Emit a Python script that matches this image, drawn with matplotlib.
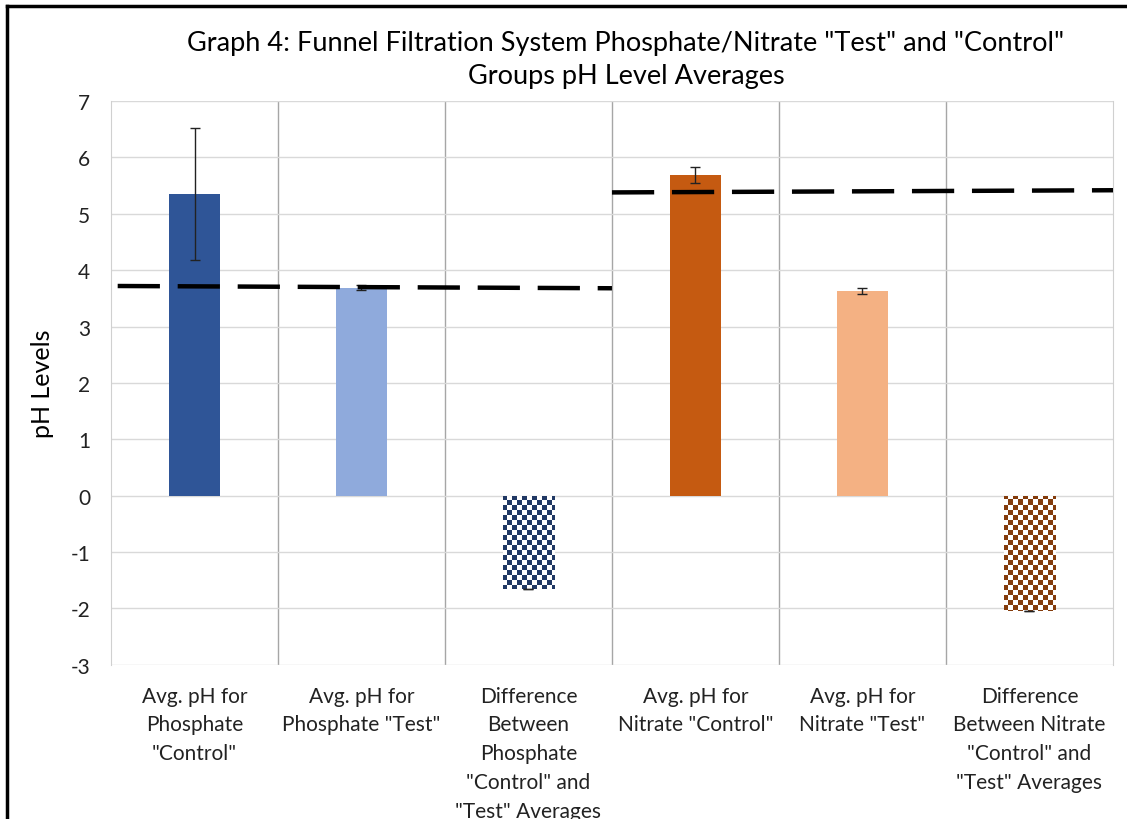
import numpy as np
import matplotlib

matplotlib.use("Agg")
import matplotlib.pyplot as plt
from matplotlib.colors import ListedColormap
from matplotlib.lines import Line2D

plt.rcParams["font.family"] = ["Lato", "DejaVu Sans"]

TITLE = 'Graph 4: Funnel Filtration System Phosphate/Nitrate "Test" and "Control"\nGroups pH Level Averages'
CATEGORIES = [
    'Avg. pH for\nPhosphate\n"Control"',
    'Avg. pH for\nPhosphate "Test"',
    'Difference\nBetween\nPhosphate\n"Control" and\n"Test" Averages',
    'Avg. pH for\nNitrate "Control"',
    'Avg. pH for\nNitrate "Test"',
    'Difference\nBetween Nitrate\n"Control" and\n"Test" Averages',
]
PH_VALUES = [5.35, 3.69, -1.66, 5.69, 3.63, -2.05]
PH_ERRORS = [1.17, 0.04, 0.0, 0.14, 0.06, 0.0]
BAR_COLORS = ["#2F5597", "#8FAADC", "#203864", "#C55A11", "#F4B183", "#843C0C"]
CHECKERED = [False, False, True, False, False, True]

# dashed reference lines (x span in category units, y values)
PHOSPHATE_LINE_X = [-0.46, 2.5]
PHOSPHATE_LINE_Y = [3.72, 3.68]
NITRATE_LINE_X = [2.5, 5.6]
NITRATE_LINE_Y = [5.38, 5.42]

Y_TICKS = [-3, -2, -1, 0, 1, 2, 3, 4, 5, 6, 7]

fig = plt.figure(figsize=(11.27, 8.2), dpi=100)
ax = fig.add_axes([0.0985, 0.188, 0.889, 0.6875])

x = np.arange(len(CATEGORIES))
bars = ax.bar(x, PH_VALUES, width=0.31, color=BAR_COLORS, zorder=3)
ax.errorbar(x, PH_VALUES, yerr=PH_ERRORS, fmt="none", ecolor="#222222",
            elinewidth=1.0, capsize=3.5, capthick=1.0, zorder=4)

# checkerboard texture clipped to the difference bars
n_cols, n_rows = 200, 113
checker = (np.add.outer(np.arange(n_rows), np.arange(n_cols)) % 2).astype(float)
for bar, color, checked in zip(bars, BAR_COLORS, CHECKERED):
    if not checked:
        continue
    bar.set_facecolor("white")
    img = ax.imshow(checker, cmap=ListedColormap(["white", color]), extent=(0, 1, 0, 1),
                    transform=ax.transAxes, interpolation="nearest", aspect="auto", zorder=3.5)
    img.set_clip_path(bar)

ax.plot(PHOSPHATE_LINE_X, PHOSPHATE_LINE_Y, color="black", linewidth=3.2,
        dashes=(9.5, 4), zorder=5)
ax.plot(NITRATE_LINE_X, NITRATE_LINE_Y, color="black", linewidth=3.2,
        dashes=(9.5, 4), zorder=5)

ax.set_xlim(-0.5, 5.5)
ax.set_ylim(-3, 7)
ax.set_yticks(Y_TICKS)
ax.set_yticklabels([str(t) for t in Y_TICKS], fontsize=15)
ax.set_xticks(x)
ax.set_xticklabels(CATEGORIES, fontsize=15, linespacing=1.55, va="top")
ax.tick_params(axis="both", length=0, colors="#222222")
ax.tick_params(axis="x", pad=15)
ax.tick_params(axis="y", pad=15)
ax.yaxis.grid(True, color="#D9D9D9", linewidth=1.0, zorder=0)
for xb in np.arange(0.5, 5.0, 1.0):
    ax.axvline(xb, color="#A6A6A6", linewidth=1.0, zorder=1)
for side in ("top", "bottom"):
    ax.spines[side].set_visible(False)
for side in ("left", "right"):
    ax.spines[side].set_color("#D0D0D0")
ax.set_ylabel("pH Levels", fontsize=18, labelpad=12)

fig.text(0.5555, 0.962, TITLE, ha="center", va="top", fontsize=19.5, linespacing=1.4)

# chart frame (cropped on the right and bottom)
fig.add_artist(Line2D([0.0066, 0.0066], [0.0, 0.9915], color="black", linewidth=2.5,
                      transform=fig.transFigure))
fig.add_artist(Line2D([0.0066, 1.0], [0.9915, 0.9915], color="black", linewidth=2.5,
                      transform=fig.transFigure))

fig.savefig("out.png", dpi=100)
